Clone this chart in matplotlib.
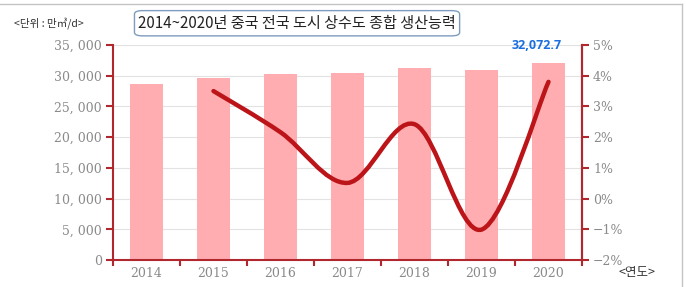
import numpy as np
import matplotlib
matplotlib.use('Agg')
import matplotlib.pyplot as plt
from matplotlib.path import Path
from matplotlib.patches import PathPatch, FancyBboxPatch
from matplotlib.lines import Line2D

years = ['2014', '2015', '2016', '2017', '2018', '2019', '2020']
capacity = [28673.3, 29678.3, 30320.7, 30475.0, 31211.8, 30897.8, 32072.7]
growth_years = ['2015', '2016', '2017', '2018', '2019', '2020']
growth = [3.50, 2.16, 0.51, 2.42, -1.01, 3.80]
left_ticks = [0, 5000, 10000, 15000, 20000, 25000, 30000, 35000]
right_ticks = [-2, -1, 0, 1, 2, 3, 4, 5]

axis_red = '#b0282d'
bar_pink = '#ffadb1'
line_red = '#bb1419'
tick_gray = '#8a8a8a'

plt.rcParams['font.family'] = ['Noto Sans CJK KR', 'DejaVu Sans']

fig = plt.figure(figsize=(6.86, 2.87), dpi=100)
ax = fig.add_axes([0.1647, 0.0941, 0.6837, 0.7491])

x = np.arange(len(years))
ax.bar(x, capacity, width=0.5, color=bar_pink, zorder=2)
ax.set_xlim(-0.5, len(years) - 0.5)
ax.set_ylim(0, 35000)
ax.set_yticks(left_ticks)
ax.set_yticklabels([f'{v:,}'.replace(',', ', ') for v in left_ticks],
                   family='DejaVu Serif', fontsize=9, color=tick_gray)
ax.set_xticks(x)
ax.set_xticklabels(years, family='DejaVu Serif', fontsize=9, color=tick_gray)
ax.tick_params(axis='x', length=0, pad=5)
ax.set_xticks(np.arange(-0.5, len(years)), minor=True)
ax.tick_params(axis='x', which='minor', length=4, width=1.5, color=axis_red, direction='out')
ax.tick_params(axis='y', length=5, width=1.5, color=axis_red, pad=3)
ax.grid(axis='y', color='#e2e2e2', linewidth=0.8, zorder=0)
ax.set_axisbelow(True)
ax.spines['top'].set_visible(False)
for side in ['left', 'right', 'bottom']:
    ax.spines[side].set_color(axis_red)
    ax.spines[side].set_linewidth(1.5)

ax2 = ax.twinx()
ax2.set_ylim(-2, 5)
ax2.set_yticks(right_ticks)
ax2.set_yticklabels([f'{v}%'.replace('-', '\u2212') for v in right_ticks],
                    family='DejaVu Serif', fontsize=9, color=tick_gray)
ax2.tick_params(axis='y', length=5, width=1.5, color=axis_red, pad=3)
for side in ['top', 'left', 'bottom']:
    ax2.spines[side].set_visible(False)
ax2.spines['right'].set_color(axis_red)
ax2.spines['right'].set_linewidth(1.5)

# smooth growth line (catmull-rom as cubic bezier)
gx = np.array([years.index(y) for y in growth_years], dtype=float)
gy = np.array(growth)
pts = np.column_stack([gx, gy])
ext = np.vstack([pts[0], pts, pts[-1]])
verts = [tuple(pts[0])]
codes = [Path.MOVETO]
for i in range(len(pts) - 1):
    p0, p1, p2, p3 = ext[i], ext[i + 1], ext[i + 2], ext[i + 3]
    c1 = p1 + (p2 - p0) / 6
    c2 = p2 - (p3 - p1) / 6
    verts += [tuple(c1), tuple(c2), tuple(p2)]
    codes += [Path.CURVE4] * 3
ax2.add_patch(PathPatch(Path(verts, codes), facecolor='none', edgecolor=line_red,
                        linewidth=3.2, capstyle='round', zorder=3))

ax2.text(6.2, 4.98, f'{capacity[-1]:,}', color='#1a6ee0', fontsize=9, fontweight='bold',
         family=['Open Sans', 'DejaVu Sans'], ha='right', va='center')

# title and labels
fig.add_artist(FancyBboxPatch((0.196, 0.875), 0.474, 0.088,
                              boxstyle='round,pad=0,rounding_size=0.012',
                              transform=fig.transFigure, facecolor='white',
                              edgecolor='#7e9cc0', linewidth=1.0))
fig.text(0.433, 0.918, '2014~2020년 중국 전국 도시 상수도 종합 생산능력',
         fontsize=10.9, ha='center', va='center', color='#222222')
fig.text(0.021, 0.918, '<단위 : 만㎥/d>', fontsize=7.6, ha='left', va='center', color='#333333')
fig.text(0.928, 0.05, '<연도>', fontsize=9, ha='center', va='center', color='#333333')

# outer frame
fig.add_artist(Line2D([0, 0.994], [0.986, 0.986], transform=fig.transFigure,
                      color='#c4c4c4', linewidth=1))
fig.add_artist(Line2D([0.994, 0.994], [0.986, 0], transform=fig.transFigure,
                      color='#c4c4c4', linewidth=1))

fig.savefig('out.png', dpi=100)
